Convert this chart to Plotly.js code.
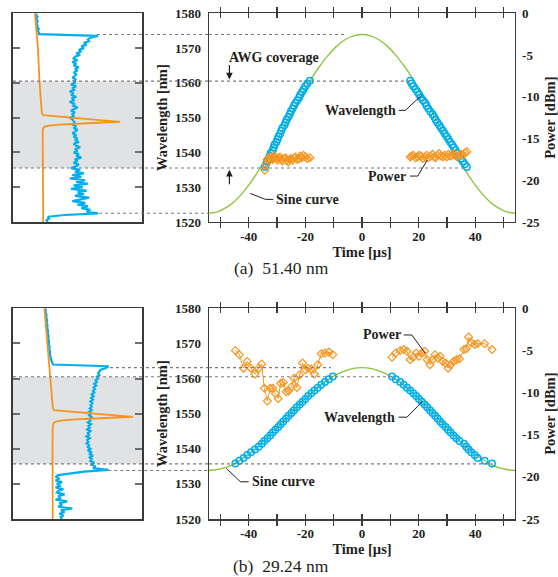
<!DOCTYPE html>
<html>
<head>
<meta charset="utf-8">
<script src="https://cdn.plot.ly/plotly-3.0.1.min.js"></script>
<style>html,body{margin:0;padding:0;background:#fff;}#chart{width:558px;height:577px;}</style>
</head>
<body>
<div id="chart"></div>
<script>
// ---------- Data ----------
// Time axis ticks
const timeTickVals = [-50,-40,-30,-20,-10,0,10,20,30,40,50];
const timeTickText = ['','-40','','-20','','0','','20','','40',''];
const powerTickVals = [-25,-20,-15,-10,-5,0];
const powerTickText = ['-25','-20','-15','-10','-5','0'];
const wlTickVals = [1520,1530,1540,1550,1560,1570,1580];

// Fitted sine curves
const sineT = [-54,-51,-48,-45,-42,-39,-36,-33,-30,-27,-24,-21,-18,-15,-12,-9,-6,-3,0,3,6,9,12,15,18,21,24,27,30,33,36,39,42,45,48,51,54];
const sineA = [1522.5,1522.9,1524.1,1525.9,1528.5,1531.7,1535.4,1539.4,1543.7,1548.2,1552.7,1557.0,1561.1,1564.7,1567.9,1570.5,1572.4,1573.5,1573.9,1573.5,1572.4,1570.5,1567.9,1564.7,1561.1,1557.0,1552.7,1548.2,1543.7,1539.4,1535.4,1531.7,1528.5,1525.9,1524.1,1522.9,1522.5];
const sineB = [1533.8,1534.1,1534.7,1535.8,1537.3,1539.1,1541.1,1543.5,1545.9,1548.5,1551.0,1553.5,1555.8,1557.9,1559.7,1561.1,1562.2,1562.9,1563.1,1562.9,1562.2,1561.1,1559.7,1557.9,1555.8,1553.5,1551.0,1548.5,1545.9,1543.5,1541.1,1539.1,1537.3,1535.8,1534.7,1534.1,1533.8];

// Measured channel wavelengths
const wlUp = [1535.8,1536.6,1537.4,1538.2,1539.0,1539.8,1540.6,1541.4,1542.2,1543.0,1543.8,1544.6,1545.4,1546.2,1547.0,1547.8,1548.6,1549.4,1550.2,1551.0,1551.8,1552.6,1553.4,1554.2,1555.0,1555.8,1556.6,1557.4,1558.2,1559.0,1559.8,1560.6];
const wlDown = [1560.6,1559.8,1559.0,1558.2,1557.4,1556.6,1555.8,1555.0,1554.2,1553.4,1552.6,1551.8,1551.0,1550.2,1549.4,1548.6,1547.8,1547.0,1546.2,1545.4,1544.6,1543.8,1543.0,1542.2,1541.4,1540.6,1539.8,1539.0,1538.2,1537.4,1536.6,1535.8];

// Panel (a) 51.40 nm
const tA_left = [-34.3,-33.9,-33.5,-33.0,-32.6,-32.2,-31.5,-31.2,-30.9,-30.2,-29.8,-29.5,-28.9,-28.5,-28.1,-27.4,-27.0,-26.6,-26.0,-25.5,-25.1,-24.5,-24.0,-23.5,-22.8,-22.2,-21.8,-21.2,-20.6,-20.0,-19.3,-18.4];
const pwA_left = [-18.8,-18.1,-17.5,-17.3,-17.6,-17.2,-17.5,-17.3,-17.1,-17.4,-17.6,-17.3,-17.2,-17.5,-17.7,-17.4,-17.3,-17.6,-17.8,-17.5,-17.4,-17.6,-17.3,-17.2,-17.5,-17.4,-17.1,-17.3,-17.0,-17.2,-17.4,-17.3];
const tA_right = [17.0,17.5,18.1,18.9,19.6,20.2,20.8,21.5,22.3,22.8,23.4,24.1,24.9,25.5,26.0,26.6,27.3,27.9,28.6,29.2,29.9,30.5,31.1,31.8,32.4,33.0,33.6,34.2,34.9,35.6,36.3,37.0];
const pwA_right = [-17.2,-17.1,-17.0,-17.3,-17.2,-17.0,-17.1,-17.4,-17.2,-17.0,-17.3,-17.1,-16.9,-17.2,-17.3,-17.0,-16.8,-17.1,-17.2,-17.0,-17.2,-16.9,-17.1,-17.0,-16.8,-17.0,-17.2,-17.1,-16.9,-17.0,-16.7,-16.6];

// Panel (b) 29.24 nm
const tB_left = [-44.7,-43.3,-41.8,-40.5,-39.2,-37.8,-36.5,-35.4,-34.5,-33.4,-32.4,-31.5,-30.6,-29.6,-28.7,-27.8,-26.8,-25.9,-24.9,-24.0,-23.0,-22.0,-21.0,-20.0,-19.0,-17.9,-16.8,-15.6,-14.4,-13.1,-11.7,-10.3];
const pwB_left = [-5.0,-5.5,-7.1,-6.3,-7.1,-7.8,-7.1,-6.6,-9.5,-11.0,-9.5,-9.5,-10.1,-10.7,-8.9,-8.8,-9.9,-9.8,-9.3,-8.3,-9.4,-7.9,-6.5,-7.3,-7.1,-7.2,-7.8,-6.7,-5.4,-5.3,-5.2,-5.5];
const tB_right = [10.6,11.9,13.5,14.7,15.9,17.0,18.1,19.1,20.1,21.1,22.1,23.0,24.0,24.9,25.8,26.7,27.6,28.5,29.5,30.4,31.3,32.3,33.3,34.4,36.0,36.8,37.6,38.6,39.8,40.8,43.3,45.9];
const pwB_right = [-5.8,-5.3,-5.0,-4.9,-5.1,-6.1,-5.8,-5.3,-5.7,-5.3,-5.1,-6.1,-6.7,-6.1,-5.5,-5.9,-5.7,-6.3,-6.5,-7.1,-6.7,-6.3,-6.1,-6.0,-4.9,-4.8,-3.4,-4.1,-4.3,-4.2,-4.2,-4.9];

// Spectra (left panels), wavelength from 1580 down to 1520 in 0.5 nm steps, relative power units
const specA_sweep = [18,18,19,18,19,19,18,19,19,20,19,20,20,
 66,60,58,59,55,57,53,55,
 51,53,49,52,48,47,50,46,49,47,51,48,50,47,49,48,46,49,47,
 48,45,49,46,48,44,47,45,49,46,47,44,48,46,50,47,45,48,46,47,44,
 46,47,48,46,49,47,50,48,46,49,47,50,48,51,47,49,52,48,50,47,51,49,53,48,50,47,51,49,
 45,52,48,55,46,53,44,56,49,58,47,54,45,57,50,55,48,59,51,46,56,50,58,53,60,57,66,40,27,28,26,27];
const specB_sweep = [25,25.5,25.2,25.8,26,25.7,26.2,26.4,26,26.6,26.8,26.5,27,27.2,26.9,27.4,27.6,27.3,27.8,28,27.7,28.2,28.4,28.1,28.6,28.8,28.5,29,29.2,29.5,29.8,30.5,31,
 74,72,68,67,66,67,65,
 66,64,65,63,64.5,62.5,63.5,62,63,61,62.5,60.5,62,60,61.5,60,61,59.5,61,59,60.5,59,61,59.5,60,58,60.5,58.5,59.5,57.5,60,58,59,57,59.5,57.5,58.5,57,59,58,60,58,61,59,62,59.5,61,60,63,
 60,64,62,74,55,45,35,33,36,33,38,34,37,33,39,35,34,40,35,37,33,42,36,38,35,46,37,40,36,39,37,38];
const laserA_wl = [1580,1570,1560,1555,1552.5,1551.5,1551,1550.7,1550.3,1550,1549.7,1549.4,1549.1,1548.8,1548.6,1548.3,1548,1547.7,1547.4,1547.1,1546.8,1546,1540,1530,1520];
const laserA_pw = [17,19.3,20.6,21.3,21.8,22.3,22.8,23.5,36,45,54,64,73,83,70,50,36,28,24.5,23.6,23.2,23,23,23.2,23.4];
const laserB_wl = [1580,1570,1564,1558,1554,1552,1551,1550.7,1550.4,1550.1,1549.8,1549.5,1549.1,1548.9,1548.6,1548.3,1548,1547.7,1547.3,1546.5,1540,1530,1520];
const laserB_pw = [24.3,26.5,28,29.3,30.2,30.8,31.5,41,51,60.5,70,80,93,80,60,45,37,33,31.5,30.8,30.6,30.6,30.8];

// ---------- Styles ----------
const BLUE = '#00aeef', ORANGE = '#f7941d', GREEN = '#8dc63f', AX = '#3a3a3a';
const FONT = 'Liberation Serif';

function sine(x, y, xa, ya) {
  return {x:x, y:y, xaxis:xa, yaxis:ya, type:'scatter', mode:'lines', line:{color:GREEN, width:1.4, shape:'spline'}, hoverinfo:'skip'};
}
function wl(x, y, xa, ya) {
  return {x:x, y:y, xaxis:xa, yaxis:ya, type:'scatter', mode:'markers', marker:{symbol:'circle-open', size:6.5, color:BLUE, line:{width:1.5, color:BLUE}}};
}
function pw(x, y, xa, ya) {
  return {x:x, y:y, xaxis:xa, yaxis:ya, type:'scatter', mode:'lines+markers', line:{color:ORANGE, width:1}, marker:{symbol:'diamond-open', size:6, color:ORANGE, line:{width:1.2, color:ORANGE}}};
}

const data = [
  sine(sineT, sineA, 'x', 'y'),
  pw(tA_left, pwA_left, 'x', 'y2'),
  pw(tA_right, pwA_right, 'x', 'y2'),
  wl(tA_left, wlUp, 'x', 'y'),
  wl(tA_right, wlDown, 'x', 'y'),
  {x:specA_sweep, y0:1580, dy:-0.5, xaxis:'x2', yaxis:'y3', type:'scatter', mode:'lines', line:{color:BLUE, width:2.2}},
  {x:laserA_pw, y:laserA_wl, xaxis:'x2', yaxis:'y3', type:'scatter', mode:'lines', line:{color:ORANGE, width:1.8}},

  sine(sineT, sineB, 'x3', 'y4'),
  pw(tB_left, pwB_left, 'x3', 'y5'),
  pw(tB_right, pwB_right, 'x3', 'y5'),
  wl(tB_left, wlUp, 'x3', 'y4'),
  wl(tB_right, wlDown, 'x3', 'y4'),
  {x:specB_sweep, y0:1580, dy:-0.5, xaxis:'x4', yaxis:'y6', type:'scatter', mode:'lines', line:{color:BLUE, width:2.2}},
  {x:laserB_pw, y:laserB_wl, xaxis:'x4', yaxis:'y6', type:'scatter', mode:'lines', line:{color:ORANGE, width:1.8}}
];

const tickFont = {family:FONT, size:13, color:'#231f20', weight:'bold'};
const titleFont = {family:FONT, size:14.5, color:'#231f20', weight:'bold'};

const domA = [0.6153, 0.9769], domB = [0.1005, 0.4657];
const domMainX = [0.3746, 0.9229], domLeftX = [0.0233, 0.2545];

function timeAxis(anchor) {
  return {domain:domMainX, anchor:anchor, range:[-54,54], tickvals:timeTickVals, ticktext:timeTickText,
    ticks:'inside', ticklen:5, tickwidth:1.2, tickcolor:AX, mirror:'allticks', showline:true, linecolor:AX, linewidth:1.5,
    showgrid:false, zeroline:false, tickfont:tickFont, ticklabelstandoff:2,
    title:{text:'Time [µs]', font:titleFont, standoff:2}};
}
function wlAxis(dom, anchor) {
  return {domain:dom, anchor:anchor, range:[1520,1580], tickvals:wlTickVals, ticks:'', showline:true, linecolor:AX, linewidth:1.5,
    showgrid:false, zeroline:false, tickfont:tickFont, ticklabelstandoff:4,
    title:{text:'Wavelength [nm]', font:titleFont, standoff:4}};
}
function pwAxis(over, anchor) {
  return {overlaying:over, anchor:anchor, side:'right', range:[-25,0], tickvals:powerTickVals, ticktext:powerTickText, ticks:'',
    showline:true, linecolor:AX, linewidth:1.5, showgrid:false, zeroline:false, tickfont:tickFont, ticklabelstandoff:3,
    title:{text:'Power [dBm]', font:titleFont, standoff:8}};
}
function specX(anchor) {
  return {domain:domLeftX, anchor:anchor, range:[0,100], showline:true, mirror:true, linecolor:AX, linewidth:1.6,
    ticks:'', showticklabels:false, showgrid:false, zeroline:false};
}
function specY(dom, anchor) {
  return {domain:dom, anchor:anchor, range:[1520,1580], tickvals:[1530,1540,1550,1560,1570], showticklabels:false,
    ticks:'inside', ticklen:7, tickwidth:2, tickcolor:'#6d6e71', mirror:'allticks', showline:true, linecolor:AX, linewidth:1.6,
    showgrid:false, zeroline:false};
}

const DOT = {color:'#7a7a7a', width:1.1, dash:'dot'};
function hline(x0, x1, y, xref, yref) {
  return {type:'line', xref:xref, yref:yref, x0:x0, x1:x1, y0:y, y1:y, line:DOT, layer:'above'};
}
function leader(path, xref, yref) {
  return {type:'path', xref:xref, yref:yref, path:path, line:{color:'#231f20', width:1}, layer:'above'};
}

const shapes = [
  // gray AWG bands
  {type:'rect', xref:'x2', yref:'y3', x0:0, x1:100, y0:1535.5, y1:1560.5, fillcolor:'#e1e2e4', line:{width:0}, layer:'below'},
  {type:'rect', xref:'x4', yref:'y6', x0:0, x1:100, y0:1535.7, y1:1560.5, fillcolor:'#e1e2e4', line:{width:0}, layer:'below'},
  // panel (a) dotted guides
  hline(0.1738, 0.3746, 1573.9, 'paper', 'y'), hline(-54, -6, 1573.9, 'x', 'y'),
  hline(0.0233, 0.3746, 1560.5, 'paper', 'y'), hline(-54, 17, 1560.5, 'x', 'y'),
  hline(0.0233, 0.3746, 1535.5, 'paper', 'y'), hline(-54, 37, 1535.5, 'x', 'y'),
  hline(0.1775, 0.3746, 1522.5, 'paper', 'y'),
  // panel (b) dotted guides
  hline(0.197, 0.3746, 1563.1, 'paper', 'y4'), hline(-54, -11, 1563.1, 'x3', 'y4'),
  hline(0.0233, 0.3746, 1560.5, 'paper', 'y4'), hline(-54, 10.6, 1560.5, 'x3', 'y4'),
  hline(0.0233, 0.3746, 1535.7, 'paper', 'y4'), hline(-54, 46, 1535.7, 'x3', 'y4'),
  hline(0.194, 0.3746, 1533.8, 'paper', 'y4'),
  // leader lines (a)
  leader('M 13.0,1552.1 L 15.3,1552.1 L 21.1,1556.5', 'x', 'y'),
  leader('M 16.9,1533.2 L 19.7,1533.2 L 23.0,1537.8', 'x', 'y'),
  leader('M -39.4,1528.2 L -34.1,1526.5 L -31.3,1526.5', 'x', 'y'),
  // leader lines (b)
  leader('M 14.7,1572.4 L 17.6,1572.4 L 22.3,1567.2', 'x3', 'y4'),
  leader('M 12.9,1549.0 L 15.9,1549.0 L 21.2,1553.4', 'x3', 'y4'),
  leader('M -47.9,1534.4 L -42.9,1530.6 L -40.0,1530.6', 'x3', 'y4')
];

const labFont = {family:FONT, size:14, color:'#231f20'};
function lab(text, x, y, xref, yref, xanchor) {
  return {text:'<b>'+text+'</b>', x:x, y:y, xref:xref, yref:yref, xanchor:xanchor, yanchor:'middle', showarrow:false, font:labFont};
}
function arrow(x, y, ay) {
  return {text:'', x:x, y:y, xref:'x', yref:'y', ax:0, ay:ay, showarrow:true, arrowhead:2, arrowsize:1.1, arrowwidth:1.2, arrowcolor:'#231f20'};
}

const annotations = [
  lab('AWG coverage', -47.6, 1567.4, 'x', 'y', 'left'),
  arrow(-46.8, 1561.0, -16),
  arrow(-46.8, 1535.0, 16),
  lab('Wavelength', 12.6, 1552.1, 'x', 'y', 'right'),
  lab('Power', 16.4, 1533.2, 'x', 'y', 'right'),
  lab('Sine curve', -30.9, 1526.5, 'x', 'y', 'left'),
  lab('Power', 14.3, 1572.4, 'x3', 'y4', 'right'),
  lab('Wavelength', 12.5, 1549.0, 'x3', 'y4', 'right'),
  lab('Sine curve', -39.6, 1530.6, 'x3', 'y4', 'left'),
  {text:'(a)  51.40 nm', x:0.5036, y:0.5355, xref:'paper', yref:'paper', xanchor:'center', yanchor:'middle', showarrow:false, font:{family:FONT, size:17.5, color:'#231f20'}},
  {text:'(b)  29.24 nm', x:0.5036, y:0.019, xref:'paper', yref:'paper', xanchor:'center', yanchor:'middle', showarrow:false, font:{family:FONT, size:17.5, color:'#231f20'}}
];

const layout = {
  width:558, height:577, margin:{l:0, r:0, t:0, b:0}, showlegend:false,
  paper_bgcolor:'#ffffff', plot_bgcolor:'rgba(0,0,0,0)',
  font:{family:FONT, color:'#231f20', size:13},
  xaxis: timeAxis('y'),
  yaxis: wlAxis(domA, 'x'),
  yaxis2: pwAxis('y', 'x'),
  xaxis2: specX('y3'),
  yaxis3: specY(domA, 'x2'),
  xaxis3: timeAxis('y4'),
  yaxis4: wlAxis(domB, 'x3'),
  yaxis5: pwAxis('y4', 'x3'),
  xaxis4: specX('y6'),
  yaxis6: specY(domB, 'x4'),
  shapes: shapes,
  annotations: annotations
};

Plotly.newPlot('chart', data, layout, {displayModeBar:false, staticPlot:true});
</script>
</body>
</html>
